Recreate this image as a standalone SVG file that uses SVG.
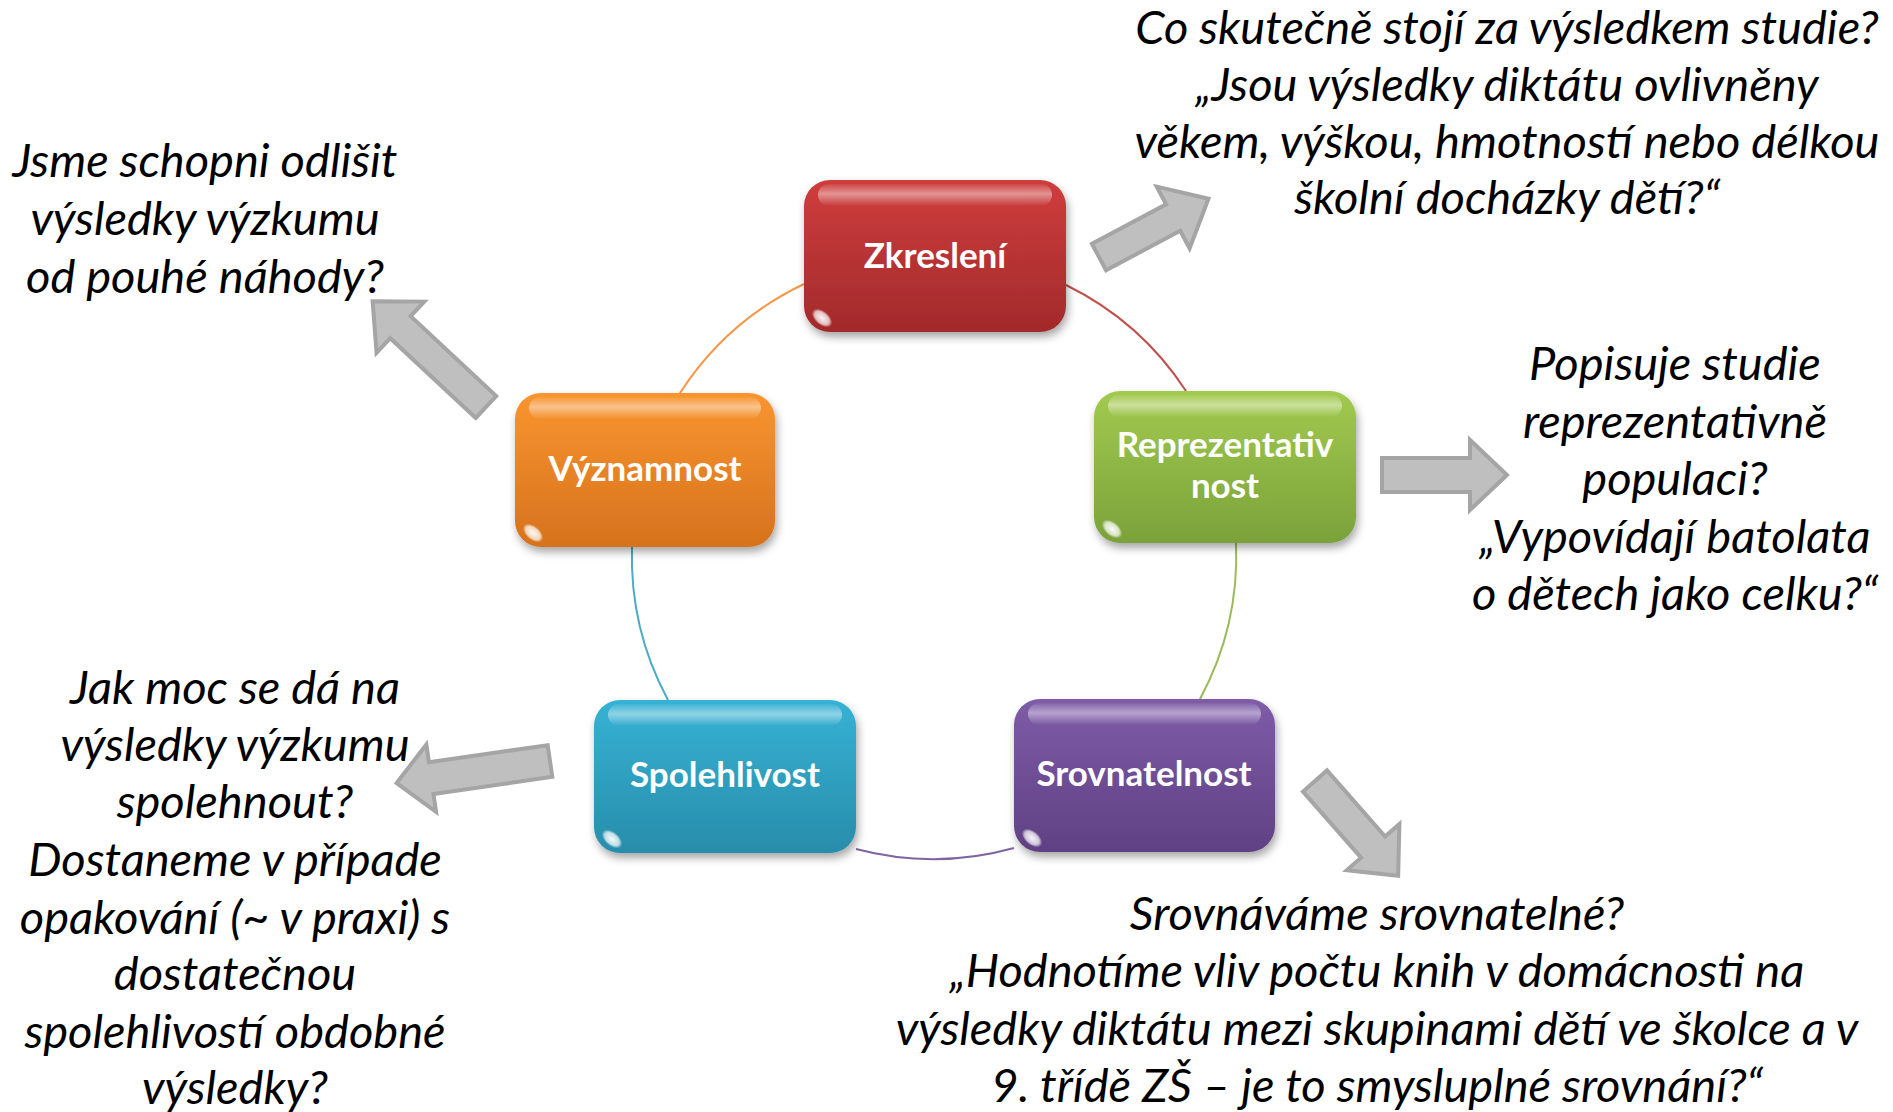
<svg xmlns="http://www.w3.org/2000/svg" width="1893" height="1112" viewBox="0 0 1893 1112">
<style>
.q{font-family:Lato,"Liberation Sans",sans-serif;font-style:italic;font-size:47px;fill:#000;text-anchor:middle}
.lbl{font-family:Lato,"Liberation Sans",sans-serif;font-weight:bold;font-size:35px;fill:#fff;text-anchor:middle}
.arc{fill:none;stroke-width:2}
.arr{fill:#bfbfbf;stroke:#a5a5a5;stroke-width:4;stroke-linejoin:miter}
.hl{fill:url(#gHl)}
.gl{fill:url(#gGl)}
</style>
<defs>
<filter id="sh" x="-20%" y="-20%" width="140%" height="150%">
<feDropShadow dx="2" dy="5" stdDeviation="4" flood-color="#000" flood-opacity="0.35"/>
</filter>
<linearGradient id="gR" x1="0" y1="0" x2="0" y2="1"><stop offset="0" stop-color="#cf3d3d"/><stop offset="1" stop-color="#a22a2b"/></linearGradient>
<linearGradient id="gG" x1="0" y1="0" x2="0" y2="1"><stop offset="0" stop-color="#a2ca4f"/><stop offset="1" stop-color="#7aa23a"/></linearGradient>
<linearGradient id="gO" x1="0" y1="0" x2="0" y2="1"><stop offset="0" stop-color="#f9952f"/><stop offset="1" stop-color="#d6721d"/></linearGradient>
<linearGradient id="gB" x1="0" y1="0" x2="0" y2="1"><stop offset="0" stop-color="#36b2d4"/><stop offset="1" stop-color="#288dab"/></linearGradient>
<linearGradient id="gP" x1="0" y1="0" x2="0" y2="1"><stop offset="0" stop-color="#7e5ca8"/><stop offset="1" stop-color="#5f4183"/></linearGradient>
<linearGradient id="gHl" x1="0" y1="0" x2="0" y2="1"><stop offset="0" stop-color="#fff" stop-opacity="0.05"/><stop offset="0.45" stop-color="#fff" stop-opacity="0.45"/><stop offset="1" stop-color="#fff" stop-opacity="0"/></linearGradient>
<radialGradient id="gGl"><stop offset="0" stop-color="#fff" stop-opacity="0.95"/><stop offset="0.7" stop-color="#fff" stop-opacity="0.7"/><stop offset="1" stop-color="#fff" stop-opacity="0"/></radialGradient>
</defs>

<g id="connectors">
<path class="arc" stroke="#f79646" d="M680,393 A302,302 0 0 1 804,284"/>
<path class="arc" stroke="#c0504d" d="M1066,285 A302,302 0 0 1 1186,391"/>
<path class="arc" stroke="#9bbb59" d="M1236,543 A302,302 0 0 1 1200,699"/>
<path class="arc" stroke="#8064a2" d="M1014,848 A302,302 0 0 1 856,849"/>
<path class="arc" stroke="#4bacc6" d="M668,700 A302,302 0 0 1 632,547"/>
</g>

<g id="arrows">
<polygon class="arr" transform="translate(1099,257) rotate(-28)" points="0,-15 84,-15 84,-35 124,0 84,35 84,15 0,15"/>
<polygon class="arr" transform="translate(486,407) rotate(-137)" points="0,-15 117,-15 117,-35 155,0 117,35 117,15 0,15"/>
<polygon class="arr" transform="translate(1382,475) rotate(0)" points="0,-17 88,-17 88,-35 125,0 88,35 88,17 0,17"/>
<polygon class="arr" transform="translate(1315,781) rotate(48.7)" points="0,-16 88,-16 88,-35 126,0 88,35 88,16 0,16"/>
<polygon class="arr" transform="translate(550,761) rotate(171.8)" points="0,-16 120,-16 120,-34 155,0 120,34 120,16 0,16"/>
</g>

<g id="node-zkresleni">
<rect x="804" y="180" width="262" height="152" rx="26" fill="url(#gR)" filter="url(#sh)"/>
<rect class="hl" x="818" y="184" width="234" height="22" rx="11"/>
<ellipse class="gl" cx="822" cy="318" rx="12" ry="7" transform="rotate(40 822 318)"/>
<text class="lbl" x="935" y="268">Zkreslení</text>
</g>

<g id="node-reprezentativnost">
<rect x="1094" y="391" width="262" height="152" rx="26" fill="url(#gG)" filter="url(#sh)"/>
<rect class="hl" x="1108" y="395" width="234" height="22" rx="11"/>
<ellipse class="gl" cx="1112" cy="529" rx="12" ry="7" transform="rotate(40 1112 529)"/>
<text class="lbl" x="1225" y="457">Reprezentativ</text>
<text class="lbl" x="1225" y="498">nost</text>
</g>

<g id="node-vyznamnost">
<rect x="515" y="393" width="260" height="154" rx="26" fill="url(#gO)" filter="url(#sh)"/>
<rect class="hl" x="529" y="397" width="232" height="22" rx="11"/>
<ellipse class="gl" cx="533" cy="533" rx="12" ry="7" transform="rotate(40 533 533)"/>
<text class="lbl" x="645" y="481">Významnost</text>
</g>

<g id="node-spolehlivost">
<rect x="594" y="700" width="262" height="153" rx="26" fill="url(#gB)" filter="url(#sh)"/>
<rect class="hl" x="608" y="704" width="234" height="22" rx="11"/>
<ellipse class="gl" cx="612" cy="839" rx="12" ry="7" transform="rotate(40 612 839)"/>
<text class="lbl" x="725" y="787">Spolehlivost</text>
</g>

<g id="node-srovnatelnost">
<rect x="1014" y="699" width="261" height="153" rx="26" fill="url(#gP)" filter="url(#sh)"/>
<rect class="hl" x="1028" y="703" width="233" height="22" rx="11"/>
<ellipse class="gl" cx="1032" cy="838" rx="12" ry="7" transform="rotate(40 1032 838)"/>
<text class="lbl" x="1144" y="786">Srovnatelnost</text>
</g>

<g id="text-topright">
<text class="q" x="1507" y="44">Co skutečně stojí za výsledkem studie?</text>
<text class="q" x="1507" y="101">„Jsou výsledky diktátu ovlivněny</text>
<text class="q" x="1507" y="158">věkem, výškou, hmotností nebo délkou</text>
<text class="q" x="1507" y="214">školní docházky dětí?“</text>
</g>
<g id="text-topleft">
<text class="q" x="205" y="177">Jsme schopni odlišit</text>
<text class="q" x="205" y="235">výsledky výzkumu</text>
<text class="q" x="205" y="293">od pouhé náhody?</text>
</g>
<g id="text-right">
<text class="q" x="1675" y="380">Popisuje studie</text>
<text class="q" x="1675" y="438">reprezentativně</text>
<text class="q" x="1675" y="495">populaci?</text>
<text class="q" x="1675" y="553">„Vypovídají batolata</text>
<text class="q" x="1675" y="610">o dětech jako celku?“</text>
</g>
<g id="text-left">
<text class="q" x="235" y="704">Jak moc se dá na</text>
<text class="q" x="235" y="761">výsledky výzkumu</text>
<text class="q" x="235" y="818">spolehnout?</text>
<text class="q" x="235" y="876">Dostaneme v případe</text>
<text class="q" x="235" y="934">opakování (~ v praxi) s</text>
<text class="q" x="235" y="990">dostatečnou</text>
<text class="q" x="235" y="1048">spolehlivostí obdobné</text>
<text class="q" x="235" y="1104">výsledky?</text>
</g>
<g id="text-bottom">
<text class="q" x="1377" y="930">Srovnáváme srovnatelné?</text>
<text class="q" x="1377" y="987">„Hodnotíme vliv počtu knih v domácnosti na</text>
<text class="q" x="1377" y="1045">výsledky diktátu mezi skupinami dětí ve školce a v</text>
<text class="q" x="1377" y="1102">9. třídě ZŠ – je to smysluplné srovnání?“</text>
</g>
</svg>
